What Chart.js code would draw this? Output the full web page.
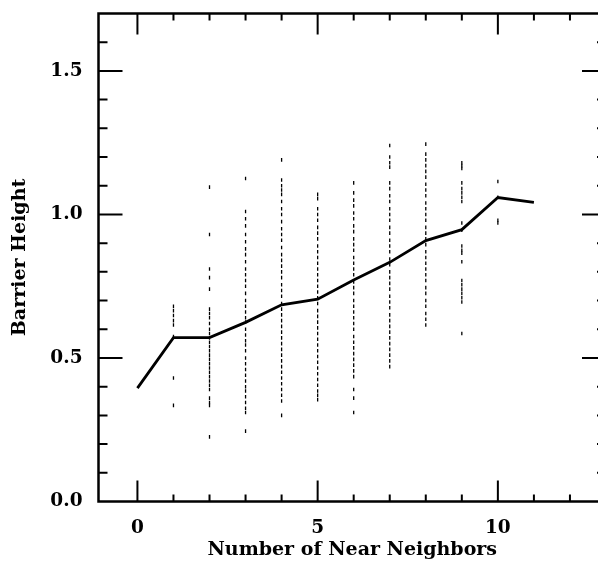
<!DOCTYPE html>
<html>
<head>
<meta charset="utf-8">
<script src="https://cdn.jsdelivr.net/npm/chart.js@4"></script>
<style>
  html, body { margin: 0; padding: 0; background: #fff; overflow: hidden; }
  #wrap { width: 598px; height: 561px; overflow: hidden; }
</style>
</head>
<body>
<div id="wrap"><canvas id="chart" width="612" height="561"></canvas></div>
<script>
// number of near neighbors and the mean barrier height
const neighbors = [0, 1, 2, 3, 4, 5, 6, 7, 8, 9, 10, 11];
const meanBarrier = [0.395, 0.571, 0.571, 0.624, 0.685, 0.705, 0.772, 0.833, 0.909, 0.947, 1.059, 1.042];

// individual barrier heights for each neighbor count
const samples1 = [0.68, 0.665, 0.648, 0.63, 0.615, 0.575, 0.43, 0.335];
const samples2 = [1.095, 0.93, 0.81, 0.78, 0.74, 0.67, 0.655, 0.64, 0.62, 0.60, 0.585, 0.57, 0.555, 0.54, 0.525, 0.51, 0.495, 0.48, 0.465, 0.45, 0.435, 0.42, 0.405, 0.39, 0.36, 0.345, 0.335, 0.225];
const samples3 = [1.125, 1.01, 0.985, 0.96, 0.93, 0.905, 0.88, 0.86, 0.835, 0.81, 0.79, 0.77, 0.75, 0.725, 0.70, 0.68, 0.66, 0.64, 0.625, 0.60, 0.58, 0.56, 0.545, 0.525, 0.50, 0.48, 0.46, 0.44, 0.42, 0.40, 0.385, 0.365, 0.345, 0.325, 0.31, 0.245];
const samples4 = [1.19, 1.12, 1.10, 1.085, 1.07, 1.045, 1.02, 1.00, 0.975, 0.95, 0.93, 0.91, 0.885, 0.86, 0.84, 0.82, 0.80, 0.78, 0.755, 0.735, 0.715, 0.69, 0.67, 0.65, 0.63, 0.61, 0.59, 0.57, 0.55, 0.53, 0.51, 0.49, 0.47, 0.45, 0.43, 0.41, 0.39, 0.37, 0.35, 0.30];
const samples5 = [1.07, 1.055, 1.02, 1.0, 0.98, 0.955, 0.935, 0.915, 0.89, 0.87, 0.85, 0.83, 0.81, 0.79, 0.77, 0.75, 0.73, 0.71, 0.69, 0.665, 0.645, 0.625, 0.605, 0.585, 0.565, 0.545, 0.525, 0.505, 0.485, 0.465, 0.445, 0.425, 0.405, 0.385, 0.37, 0.355];
const samples6 = [1.11, 1.075, 1.05, 1.03, 1.005, 0.985, 0.96, 0.94, 0.915, 0.895, 0.875, 0.85, 0.83, 0.81, 0.79, 0.765, 0.745, 0.725, 0.70, 0.68, 0.66, 0.64, 0.62, 0.60, 0.575, 0.555, 0.535, 0.515, 0.495, 0.475, 0.455, 0.435, 0.39, 0.36, 0.31];
const samples7 = [1.24, 1.20, 1.18, 1.165, 1.11, 1.09, 1.065, 1.045, 1.02, 1.0, 0.98, 0.955, 0.935, 0.91, 0.89, 0.87, 0.845, 0.825, 0.80, 0.78, 0.76, 0.74, 0.715, 0.695, 0.675, 0.65, 0.63, 0.61, 0.59, 0.57, 0.55, 0.53, 0.51, 0.49, 0.47];
const samples8 = [1.245, 1.21, 1.19, 1.17, 1.15, 1.13, 1.105, 1.085, 1.065, 1.04, 1.02, 1.0, 0.98, 0.955, 0.935, 0.915, 0.895, 0.87, 0.85, 0.83, 0.81, 0.79, 0.77, 0.745, 0.725, 0.70, 0.68, 0.655, 0.635, 0.615];
const samples9 = [1.18, 1.17, 1.16, 1.11, 1.09, 1.075, 1.06, 1.045, 0.97, 0.945, 0.89, 0.875, 0.865, 0.835, 0.77, 0.755, 0.74, 0.725, 0.71, 0.695, 0.585];
const samples10 = [1.115, 1.06, 0.98, 0.97];

// tick labels and the minor tick marks
const xTickLabels = [0, 5, 10];
const yTickLabels = [0, 0.5, 1.0, 1.5];
const xMinorTicks = [0, 1, 2, 3, 4, 5, 6, 7, 8, 9, 10, 11, 12, 13];
const yMinorTicks = [0.1, 0.2, 0.3, 0.4, 0.5, 0.6, 0.7, 0.8, 0.9, 1.0, 1.1, 1.2, 1.3, 1.4, 1.5, 1.6];

const sampleColumns = [
    [1, samples1], [2, samples2], [3, samples3], [4, samples4], [5, samples5],
    [6, samples6], [7, samples7], [8, samples8], [9, samples9], [10, samples10]
];
const samplePoints = [];
sampleColumns.forEach(([n, vals]) => {
    vals.forEach(v => samplePoints.push({x: n, y: v}));
});

const tickFont = {family: '"DejaVu Serif", serif', size: 18.5, weight: 'bold'};
const titleFont = {family: '"DejaVu Serif", serif', size: 19, weight: 'bold'};

// frame and inward tick marks, like the old plot package
const framePlugin = {
    id: 'frame',
    afterDraw(chart) {
        const c = chart.ctx;
        const a = chart.chartArea;
        const xs = chart.scales.x, ys = chart.scales.y;
        c.save();
        c.strokeStyle = '#000';
        c.lineWidth = 2.5;
        c.strokeRect(a.left, a.top, a.right - a.left, a.bottom - a.top);
        c.lineWidth = 2;
        c.beginPath();
        xMinorTicks.forEach(v => {
            const px = xs.getPixelForValue(v);
            const len = v % 5 === 0 ? 21 : 7;
            c.moveTo(px, a.bottom); c.lineTo(px, a.bottom - len);
            c.moveTo(px, a.top); c.lineTo(px, a.top + len);
        });
        yMinorTicks.forEach(v => {
            const py = ys.getPixelForValue(v);
            const major = Math.abs(v * 2 - Math.round(v * 2)) < 1e-6;
            const len = major ? 24 : 9;
            c.moveTo(a.left, py); c.lineTo(a.left + len, py);
            c.moveTo(a.right, py); c.lineTo(a.right - len, py);
        });
        c.stroke();
        c.restore();
    }
};

const chart = new Chart(document.getElementById('chart').getContext('2d'), {
    type: 'scatter',
    data: {
        datasets: [
            {
                type: 'line',
                data: neighbors.map((n, i) => ({x: n, y: meanBarrier[i]})),
                borderColor: '#000',
                borderWidth: 2.8,
                pointRadius: 0,
                fill: false,
                tension: 0
            },
            {
                data: samplePoints,
                pointStyle: 'line',
                rotation: 90,
                pointRadius: 1.8,
                borderColor: '#000',
                backgroundColor: '#000',
                borderWidth: 1.3
            }
        ]
    },
    options: {
        responsive: false,
        animation: false,
        layout: {padding: {top: 13.5, right: 6, left: 0, bottom: 0}},
        plugins: {
            legend: {display: false},
            tooltip: {enabled: false}
        },
        scales: {
            x: {
                type: 'linear',
                min: -1.08,
                max: 13,
                grid: {display: false, drawTicks: false},
                border: {display: false},
                afterBuildTicks: s => { s.ticks = xTickLabels.map(v => ({value: v})); },
                afterFit: s => { s.height = 59.5; s.paddingLeft = 0; s.paddingRight = 0; },
                ticks: {color: '#000', font: tickFont, padding: 16, maxRotation: 0},
                title: {
                    display: true,
                    text: 'Number of Near Neighbors',
                    color: '#000',
                    font: titleFont,
                    padding: {top: 0, bottom: 0}
                }
            },
            y: {
                min: 0,
                max: 1.7,
                grid: {display: false, drawTicks: false},
                border: {display: false},
                afterBuildTicks: s => { s.ticks = yTickLabels.map(v => ({value: v})); },
                afterFit: s => { s.width = 98.5; s.paddingTop = 0; s.paddingBottom = 0; },
                ticks: {color: '#000', font: tickFont, padding: 16, callback: v => v.toFixed(1)},
                title: {
                    display: true,
                    text: 'Barrier Height',
                    color: '#000',
                    font: titleFont,
                    padding: {top: 9, bottom: 0}
                }
            }
        }
    },
    plugins: [framePlugin]
});
</script>
</body>
</html>
